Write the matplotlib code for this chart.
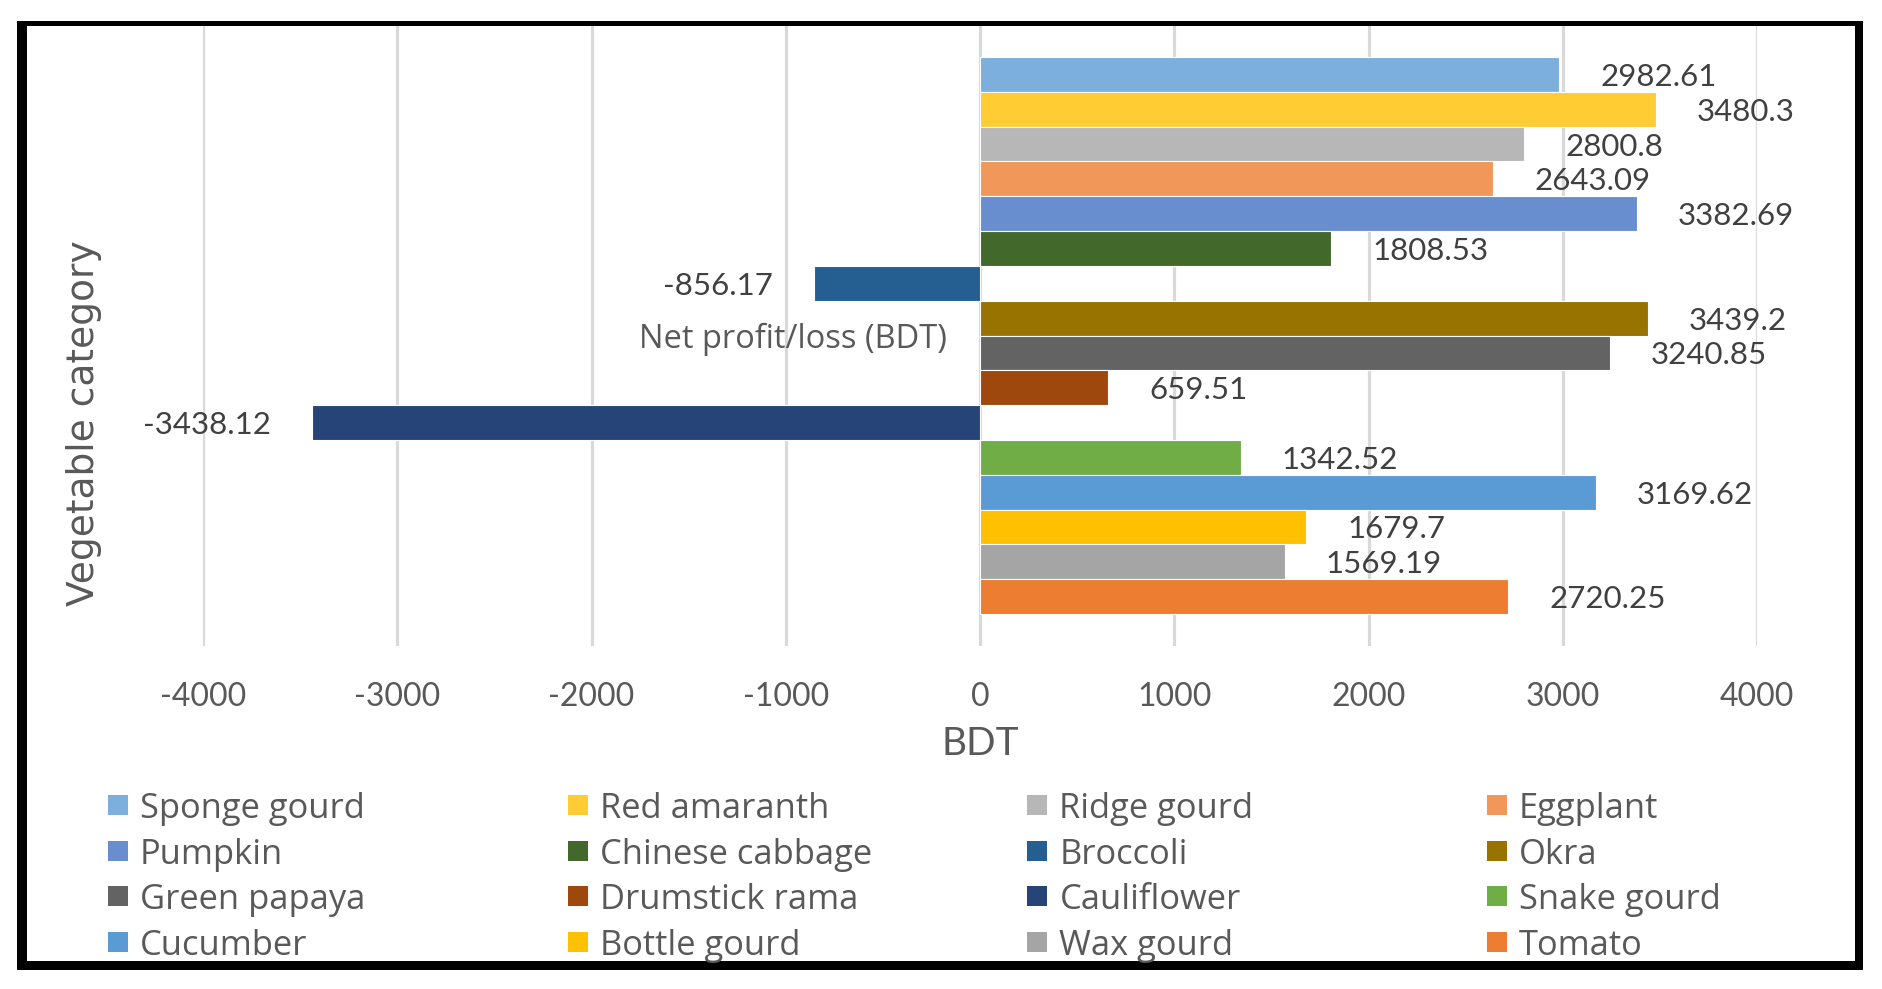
import matplotlib
matplotlib.use("Agg")
import matplotlib.pyplot as plt
from matplotlib.patches import Rectangle

plt.rcParams['font.family'] = ['Lato', 'DejaVu Sans']
WORD_FONT = ['Open Sans', 'DejaVu Sans']

# series, top to bottom as drawn
vegetables = ["Sponge gourd", "Red amaranth", "Ridge gourd", "Eggplant",
              "Pumpkin", "Chinese cabbage", "Broccoli", "Okra",
              "Green papaya", "Drumstick rama", "Cauliflower", "Snake gourd",
              "Cucumber", "Bottle gourd", "Wax gourd", "Tomato"]
net_profit = [2982.61, 3480.3, 2800.8, 2643.09,
              3382.69, 1808.53, -856.17, 3439.2,
              3240.85, 659.51, -3438.12, 1342.52,
              3169.62, 1679.7, 1569.19, 2720.25]
bar_colors = ["#7CAFDD", "#FFCD33", "#B7B7B7", "#F1975A",
              "#698ED0", "#43682B", "#255E91", "#997300",
              "#636363", "#9E480E", "#264478", "#70AD47",
              "#5B9BD5", "#FFC000", "#A5A5A5", "#ED7D31"]
category = "Net profit/loss (BDT)"
x_ticks = [-4000, -3000, -2000, -1000, 0, 1000, 2000, 3000, 4000]

W, H = 1882, 989
fig = plt.figure(figsize=(W / 100, H / 100), dpi=100)

def fx(px):
    return px / W

def fy(py):
    return 1 - py / H

# plot area
ax = fig.add_axes([fx(203), fy(646), fx(1757) - fx(203), fy(25) - fy(646)])
n = len(vegetables)
pos = list(range(n))
ax.barh(pos, net_profit, height=1.0, color=bar_colors, edgecolor="white",
        linewidth=0.8, zorder=3)
ax.set_xlim(x_ticks[0], x_ticks[-1])
gap = 0.92
ax.set_ylim(n - 0.5 + gap, -0.5 - gap)
ax.set_xticks(x_ticks)
ax.set_xticklabels([str(t) for t in x_ticks])
ax.set_yticks([])
ax.tick_params(axis="x", length=0, pad=26, labelsize=23, labelcolor="#595959")
ax.grid(axis="x", color="#D9D9D9", linewidth=2.3, zorder=0)
for s in ax.spines.values():
    s.set_visible(False)

# data labels
for p, v in zip(pos, net_profit):
    off = 41 if v >= 0 else -41
    ax.annotate(f"{v}", xy=(v, p), xytext=(off, 0), textcoords="offset pixels",
                ha="left" if v >= 0 else "right", va="center_baseline",
                fontsize=22.5, color="#404040", zorder=4)

# category label at the zero axis
ax.annotate(category, xy=(0, (n - 1) / 2), xytext=(-33, 0),
            textcoords="offset pixels", ha="right", va="center_baseline",
            fontsize=23.5, color="#595959", zorder=4, family=WORD_FONT)

fig.text(fx(980), fy(744), "BDT", ha="center", va="center",
         fontsize=28, color="#595959")
fig.text(fx(84), fy(423), "Vegetable category", ha="center", va="center",
         rotation=90, fontsize=27, color="#595959",
         family=["DejaVu Sans"])

# legend, row by row like the original
for i, (name, col) in enumerate(zip(vegetables, bar_colors)):
    r, c = divmod(i, 4)
    x0 = 108 + c * 459.7
    yc = 805 + r * 45.7
    fig.patches.append(Rectangle((fx(x0), fy(yc + 10)), fx(20), 20 / H,
                                 transform=fig.transFigure, facecolor=col,
                                 edgecolor="none"))
    fig.text(fx(x0 + 32), fy(yc), name, ha="left", va="center_baseline",
             fontsize=24.8, color="#595959", family=WORD_FONT)

# outer frame
frame = [(17, 21, 1863 - 17, 5), (17, 21, 10, 970 - 21),
         (17, 961, 1863 - 17, 9), (1855, 21, 8, 970 - 21)]
for x0, y0, w, h in frame:
    fig.patches.append(Rectangle((fx(x0), fy(y0 + h)), fx(w), h / H,
                                 transform=fig.transFigure, facecolor="black",
                                 edgecolor="none"))

fig.savefig("out.png", dpi=100)
